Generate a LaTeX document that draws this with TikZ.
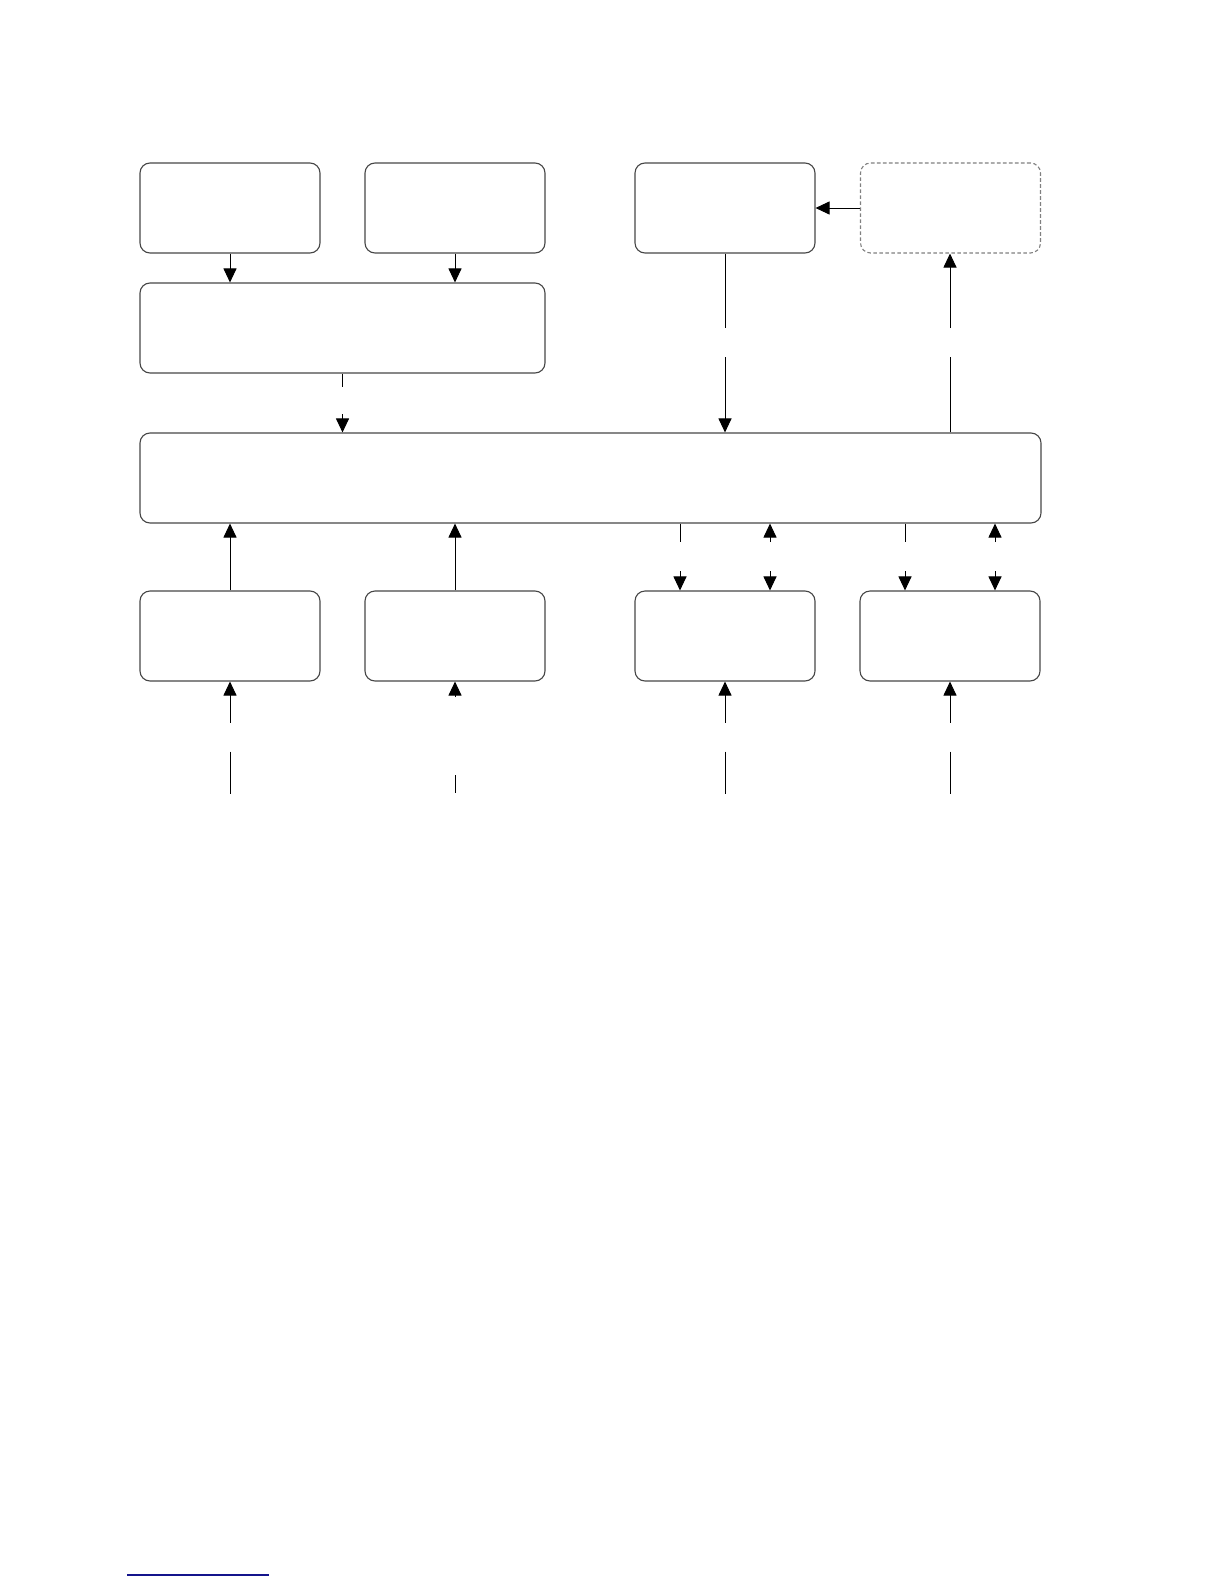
\documentclass[tikz,border=0pt]{standalone}
\usetikzlibrary{arrows.meta,calc}
\definecolor{boxline}{RGB}{70,70,70}
\definecolor{footblue}{RGB}{20,20,140}
\begin{document}
\begin{tikzpicture}[x=0.5pt,y=-0.5pt,
  blk/.style={draw=boxline,line width=0.55pt,rounded corners=5pt,minimum width=90pt,minimum height=45pt,inner sep=0pt},
  dblk/.style={blk,dash pattern=on 1.8pt off 1.2pt,draw=gray},
  conn/.style={draw=black,line width=0.5pt},
  arr/.style={conn,-{Triangle[width=6.5pt,length=7pt]}}]
\useasboundingbox (0,0) rectangle (1224,1584);
% boxes
\node[blk] (A) at (230,208) {};
\node[blk] (B) at (455,208) {};
\node[blk,minimum width=202.5pt] (C) at (342.5,328) {};
\node[blk] (E) at (725,208) {};
\node[dblk] (F) at (950.5,208) {};
\node[blk,minimum width=450.5pt] (D) at (590.5,478) {};
\node[blk] (G) at (230,636) {};
\node[blk] (H) at (455,636) {};
\node[blk] (I) at (725,636) {};
\node[blk] (J) at (950,636) {};
% top connectors
\draw[arr] (A.south) -- (A.south |- C.north);
\draw[arr] (B.south) -- (B.south |- C.north);
\draw[arr] (F.west) -- (E.east);
\coordinate (c1) at (342.5,387);
\coordinate (c2) at (342.5,414);
\draw[conn] (C.south) -- (c1);
\draw[arr] (c2) -- (c2 |- D.north);
\coordinate (e1) at (725,328);
\coordinate (e2) at (725,357);
\draw[conn] (E.south) -- (e1);
\draw[arr] (e2) -- (e2 |- D.north);
\coordinate (f1) at (950,357);
\coordinate (f2) at (950,328);
\draw[conn] (f1 |- D.north) -- (f1);
\draw[arr] (f2) -- (f2 |- F.south);
% lower to D
\draw[arr] (G.north) -- (G.north |- D.south);
\draw[arr] (H.north) -- (H.north |- D.south);
% D to I, J
\foreach \xx/\nm in {680/I,905/J} {
  \coordinate (p1) at (\xx,542);
  \coordinate (p2) at (\xx,571);
  \draw[conn] (p1 |- D.south) -- (p1);
  \draw[arr] (p2) -- (p2 |- \nm.north);
}
\foreach \xx/\nm in {770/I,995/J} {
  \coordinate (q1) at (\xx,542);
  \coordinate (q2) at (\xx,571);
  \draw[arr] (q1) -- (q1 |- D.south);
  \draw[arr] (q2) -- (q2 |- \nm.north);
}
% inputs from below
\foreach \nm in {G,I,J} {
  \coordinate (r1) at ($(\nm.south)+(0,41)$);
  \coordinate (r2) at ($(\nm.south)+(0,70)$);
  \coordinate (r3) at ($(\nm.south)+(0,112)$);
  \draw[arr] (r1) -- (\nm.south);
  \draw[conn] (r2) -- (r3);
}
\coordinate (h1) at (455,697);
\coordinate (h2) at (455,775);
\coordinate (h3) at (455,793);
\draw[arr] (h1) -- (H.south);
\draw[conn] (h2) -- (h3);
% footnote rule
\coordinate (fn1) at (127,1575);
\coordinate (fn2) at (269,1575);
\draw[footblue,line width=0.7pt] (fn1) -- (fn2);
\end{tikzpicture}
\end{document}
